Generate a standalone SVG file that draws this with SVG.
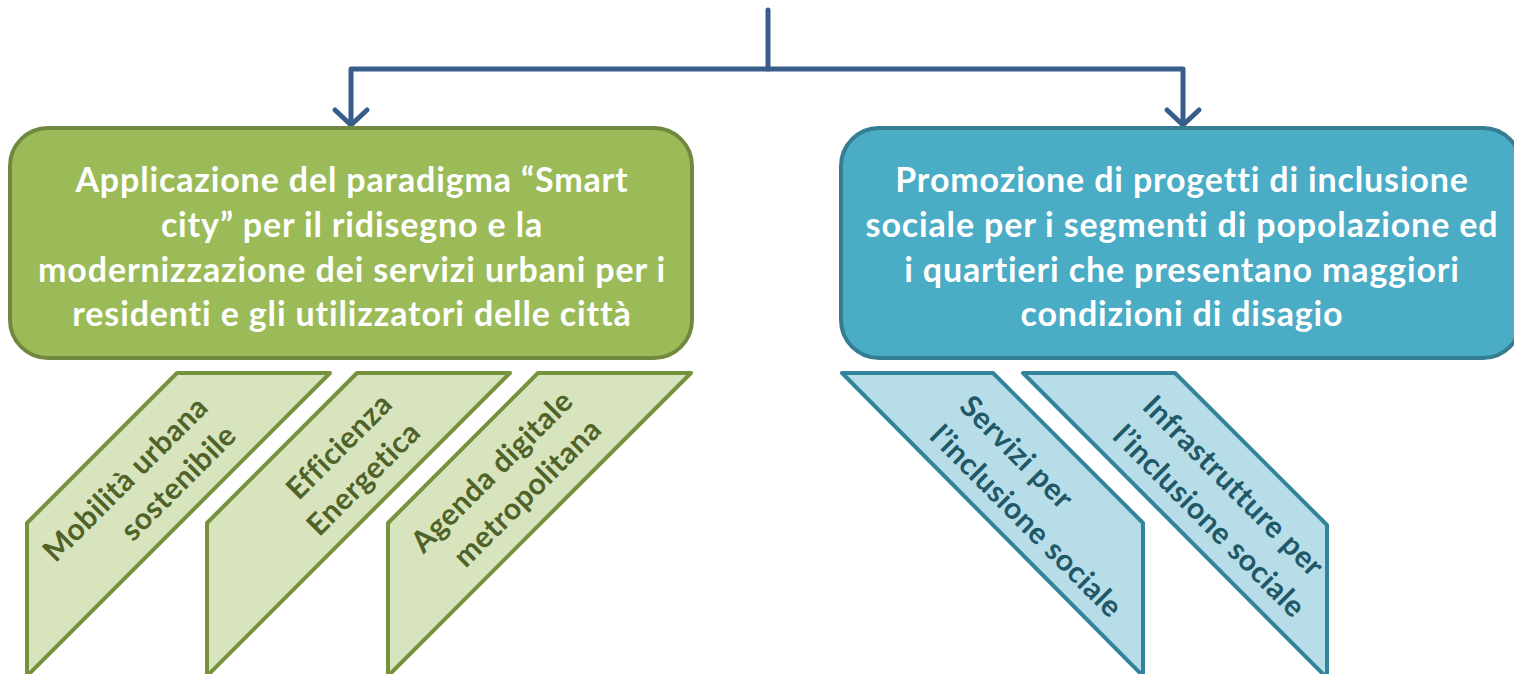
<svg xmlns="http://www.w3.org/2000/svg" width="1514" height="674" viewBox="0 0 1514 674">
<style>
.conn{fill:none;stroke:#385D8A;stroke-width:5;stroke-linejoin:round;stroke-linecap:round}
.mainG{fill:#9BBB59;stroke:#71893F;stroke-width:4}
.mainB{fill:#4BACC6;stroke:#357D91;stroke-width:4}
.mt{font-family:Lato,"Liberation Sans",sans-serif;font-weight:bold;font-size:34px;letter-spacing:0.85px;fill:#FFFFFF;text-anchor:middle}
.subG{fill:#D7E4BD;stroke:#76923C;stroke-width:4;stroke-linejoin:round}
.subB{fill:#B7DEE8;stroke:#31849B;stroke-width:4;stroke-linejoin:round}
.stG{font-family:Lato,"Liberation Sans",sans-serif;font-weight:bold;font-size:30px;letter-spacing:0.5px;fill:#4F6228;text-anchor:end}
.stB{font-family:Lato,"Liberation Sans",sans-serif;font-weight:bold;font-size:30px;letter-spacing:0.5px;fill:#215868;text-anchor:start}
</style>
<g id="connectors">
<path class="conn" d="M768,10 V69 H351 V124"/>
<path class="conn" d="M768,69 H1183 V124"/>
<path class="conn" d="M335,110 L351,125 L367,110"/>
<path class="conn" d="M1167,110 L1183,125 L1199,110"/>
</g>
<g id="node-smart-city">
<rect class="mainG" x="10" y="128" width="682" height="230" rx="38"/>
<text class="mt" x="352" y="192">Applicazione del paradigma “Smart</text>
<text class="mt" x="352" y="237">city” per il ridisegno e la</text>
<text class="mt" x="352" y="282">modernizzazione dei servizi urbani per i</text>
<text class="mt" x="352" y="326">residenti e gli utilizzatori delle città</text>
</g>
<g id="node-inclusione">
<rect class="mainB" x="841" y="128" width="680" height="230" rx="38"/>
<text class="mt" x="1182" y="192">Promozione di progetti di inclusione</text>
<text class="mt" x="1182" y="237">sociale per i segmenti di popolazione ed</text>
<text class="mt" x="1182" y="282">i quartieri che presentano maggiori</text>
<text class="mt" x="1182" y="326">condizioni di disagio</text>
</g>
<g id="node-mobilita">
<polygon class="subG" points="177,373 330,373 27,676 27,523"/>
<g transform="translate(210,409) rotate(-45)">
<text class="stG" x="0" y="0">Mobilità urbana</text>
<text class="stG" x="0" y="40">sostenibile</text>
</g>
</g>
<g id="node-efficienza">
<polygon class="subG" points="357,373 510,373 207,676 207,523"/>
<g transform="translate(394,406) rotate(-45)">
<text class="stG" x="0" y="0">Efficienza</text>
<text class="stG" x="0" y="40">Energetica</text>
</g>
</g>
<g id="node-agenda">
<polygon class="subG" points="538,373 691,373 388,676 388,523"/>
<g transform="translate(575,403) rotate(-45)">
<text class="stG" x="0" y="0">Agenda digitale</text>
<text class="stG" x="0" y="40">metropolitana</text>
</g>
</g>
<g id="node-servizi">
<polygon class="subB" points="842,373 993,373 1143,523 1143,676"/>
<g transform="translate(958,408) rotate(45)">
<text class="stB" x="0" y="0">Servizi per</text>
<text class="stB" x="0" y="42">l’inclusione sociale</text>
</g>
</g>
<g id="node-infrastrutture">
<polygon class="subB" points="1023,373 1175,373 1327,525 1327,678"/>
<g transform="translate(1141,408) rotate(45)">
<text class="stB" x="0" y="0">Infrastrutture per</text>
<text class="stB" x="0" y="42">l’inclusione sociale</text>
</g>
</g>
</svg>
